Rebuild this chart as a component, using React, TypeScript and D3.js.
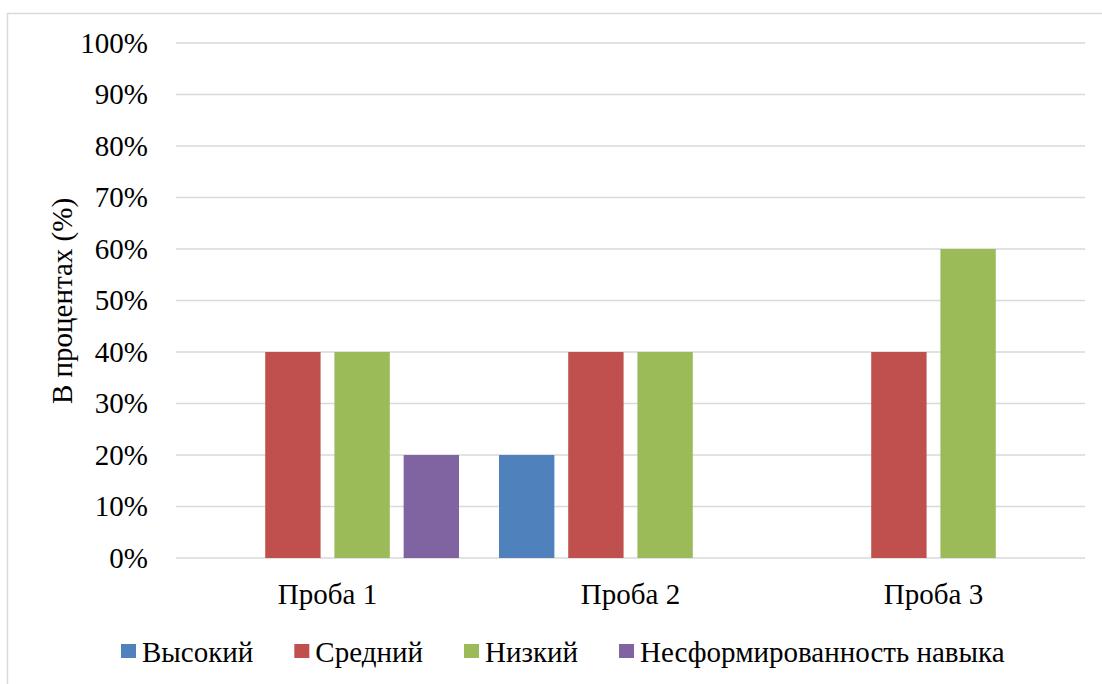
import React, { useEffect, useRef } from "react";
import * as d3 from "d3";

const categories = ["Проба 1", "Проба 2", "Проба 3"];
const seriesNames = ["Высокий", "Средний", "Низкий", "Несформированность навыка"];
const seriesColors = ["#4F81BD", "#C0504D", "#9BBB59", "#8064A2"];
const vysokiy = [0, 20, 0];
const sredniy = [40, 40, 40];
const nizkiy = [40, 40, 60];
const nesform = [20, 0, 0];
const yTicks = [0, 10, 20, 30, 40, 50, 60, 70, 80, 90, 100];
const yTitle = "В процентах (%)";

const W = 1102;
const H = 684;
const FONT = "Liberation Serif";
const FS = 29;

export default function App() {
  const ref = useRef<SVGSVGElement>(null);
  useEffect(() => {
    const svg = d3.select(ref.current);
    svg.selectAll("*").remove();
    const values = [vysokiy, sredniy, nizkiy, nesform];

    svg.append("rect").attr("x", 0).attr("y", 0).attr("width", W).attr("height", H).attr("fill", "#fff");
    svg.append("rect").attr("x", 7.5).attr("y", 13.5).attr("width", W + 20).attr("height", H + 20)
      .attr("fill", "none").attr("stroke", "#d9d9d9").attr("stroke-width", 1.5);

    const left = 176, right = 1085, top = 43, bottom = 558;
    const y = d3.scaleLinear().domain([0, 100]).range([bottom, top]);
    const x0 = d3.scaleBand<string>().domain(categories).range([left, right]).padding(0);
    const bw = x0.bandwidth();
    const x1 = d3.scaleBand<string>().domain(seriesNames).range([bw * 0.066, bw * (1 - 0.066)]).paddingInner(0.2).paddingOuter(0);

    const txt = (sel: any) => sel.style("font-family", FONT).style("font-size", FS + "px").attr("fill", "#000");

    const g = svg.append("g");
    g.selectAll("line.grid").data(yTicks).enter().append("line")
      .attr("x1", left).attr("x2", right)
      .attr("y1", (d) => y(d)).attr("y2", (d) => y(d))
      .attr("stroke", "#d9d9d9").attr("stroke-width", 1.5);

    g.selectAll("text.yt").data(yTicks).enter().append("text")
      .attr("x", 148).attr("y", (d) => y(d)).attr("dy", "0.34em")
      .attr("text-anchor", "end").call(txt)
      .text((d) => d + "%");

    svg.append("text").attr("transform", `translate(72,301) rotate(-90)`)
      .attr("text-anchor", "middle").call(txt)
      .text(yTitle);

    seriesNames.forEach((s, si) => {
      g.selectAll(`rect.s${si}`).data(categories).enter().append("rect")
        .attr("x", (c) => (x0(c) as number) + (x1(s) as number))
        .attr("width", x1.bandwidth())
        .attr("y", (c, i) => y(values[si][i]))
        .attr("height", (c, i) => bottom - y(values[si][i]))
        .attr("fill", seriesColors[si]);
    });

    g.selectAll("text.xt").data(categories).enter().append("text")
      .attr("x", (c) => (x0(c) as number) + bw / 2).attr("y", 604)
      .attr("text-anchor", "middle").call(txt)
      .text((d) => d);

    // legend
    const lg = svg.append("g");
    const items = seriesNames.map((s, i) => {
      const it = lg.append("g");
      it.append("rect").attr("x", 0).attr("y", -18).attr("width", 15).attr("height", 14).attr("fill", seriesColors[i]);
      const t = it.append("text").attr("x", 21).attr("y", 0).call(txt).text(s);
      const w = (t.node() as SVGTextElement).getComputedTextLength();
      return { it, w: 21 + w };
    });
    const gap = 41;
    let cx = 121;
    items.forEach((o) => {
      o.it.attr("transform", `translate(${cx},662)`);
      cx += o.w + gap;
    });
  }, []);
  return (
    <svg ref={ref} width={W} height={H} style={{ position: "absolute", left: 0, top: 0 }} />
  );
}
